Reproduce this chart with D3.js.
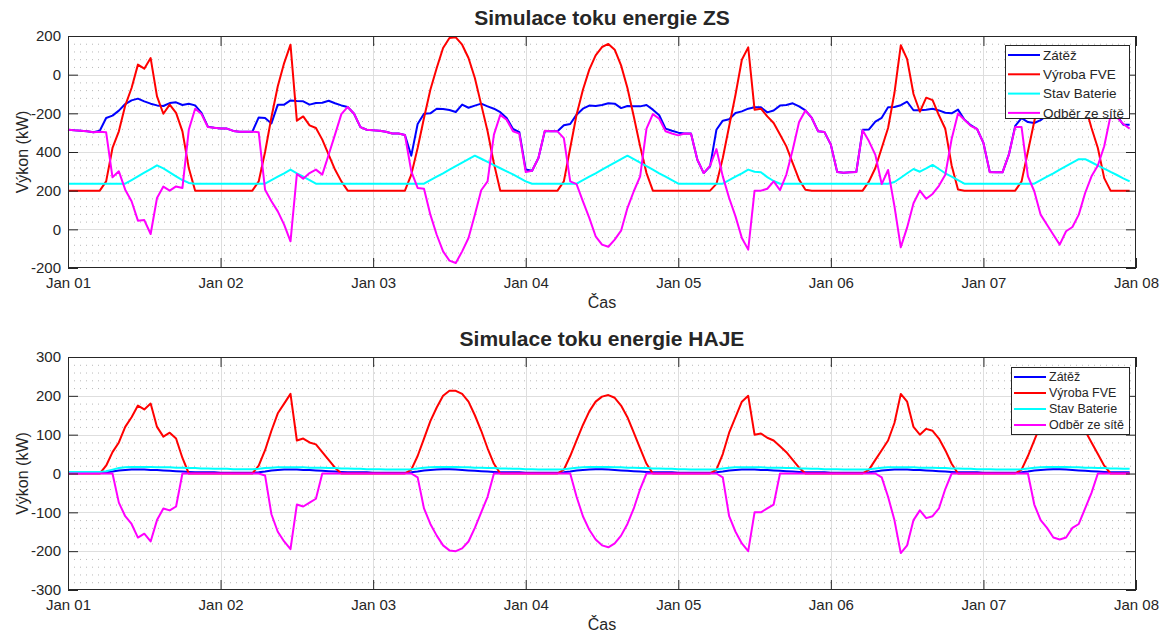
<!DOCTYPE html>
<html><head><meta charset="utf-8">
<script src="https://cdn.jsdelivr.net/npm/d3@7"></script>
<style>
body{margin:0;background:#fff;}
svg text{font-family:"Liberation Sans",Arial,Helvetica,sans-serif;fill:#262626;}
</style></head>
<body><svg id="c" width="1167" height="633"></svg>
<script>
// ---------- DATA (hourly, 1.1. 00:00 ... 7.1. 23:00) ----------
const xTickLabels = ["Jan 01","Jan 02","Jan 03","Jan 04","Jan 05","Jan 06","Jan 07","Jan 08"];
const seriesNames = ["Zátěž","Výroba FVE","Stav Baterie","Odběr ze sítě"];
const seriesColors = ["#0000ff","#ff0000","#00ffff","#ff00ff"];

const zsYTicks = [-200,0,200,400,600,800,1000];
const zsYTickLabels = ["-200","0","200","400","-200","0","200"];
const hjYTicks = [-300,-200,-100,0,100,200,300];
const hjYTickLabels = ["-300","-200","-100","0","100","200","300"];

// ZS
const zsLoad = [
 515,512,510,507,502,510,576,588,614,648,667,676,662,650,641,638,653,657,643,650,641,602,531,526,
 522,521,509,505,505,505,579,576,548,645,645,667,664,662,645,653,655,665,652,641,633,598,529,515,
 512,510,505,496,496,488,381,545,598,600,624,622,617,607,645,629,640,650,636,624,606,576,519,503,
 309,303,369,507,507,507,538,545,593,624,640,638,643,652,650,627,638,636,636,643,619,590,521,510,
 500,496,496,360,291,326,515,562,569,602,610,624,631,631,605,615,640,643,652,636,615,576,507,503,
 438,296,293,295,296,515,517,557,577,631,633,642,660,616,616,619,624,615,603,600,619,568,539,519,
 447,296,295,295,386,535,575,555,550,565,590,620,630,640,640,630,620,605,600,595,588,588,541,541];
const zsFVE = [
 200,200,200,200,200,200,248,421,507,640,731,852,831,886,688,598,645,602,507,317,200,200,200,200,
 200,200,200,200,200,200,248,400,580,740,860,955,562,584,538,524,464,386,309,248,200,200,200,200,
 200,200,200,200,200,200,283,421,576,722,834,938,990,993,955,886,783,645,507,340,200,200,200,200,
 200,200,200,200,200,200,248,421,593,722,826,900,943,959,929,848,731,584,429,291,200,200,200,200,
 200,200,200,200,200,200,235,369,533,696,877,941,619,624,584,550,490,429,343,257,205,200,200,200,
 200,200,200,200,200,200,248,317,421,524,705,952,880,700,608,681,668,590,520,330,206,200,200,200,
 200,200,200,200,200,200,248,403,559,700,820,900,940,930,880,780,640,524,421,265,200,200,200,200];
const zsBat = [
 236,236,236,236,236,236,236,236,236,236,255,274,293,312,331,315,295,274,255,240,236,236,236,236,
 236,236,236,236,236,236,236,236,254,272,290,309,290,272,254,236,236,236,236,236,236,236,236,236,
 236,236,236,236,236,236,236,236,236,254,272,290,309,327,345,363,381,365,349,332,316,300,284,266,
 248,236,236,236,236,236,236,236,236,254,272,290,309,327,345,363,381,363,345,327,309,290,272,254,
 236,236,236,236,236,236,236,236,254,272,290,309,298,295,270,250,236,236,236,236,236,236,236,236,
 236,236,236,236,236,236,236,236,236,236,245,267,290,312,298,315,333,312,290,272,254,236,236,236,
 236,236,236,236,236,236,236,236,236,254,272,290,309,327,345,363,363,347,330,314,297,281,264,248];
const zsGrid = [
 515,512,510,507,502,505,502,269,300,205,145,45,48,-24,162,221,200,222,214,515,624,596,529,526,
 522,521,509,505,505,505,502,205,145,93,24,-62,286,262,291,309,283,386,490,596,633,598,529,515,
 512,510,505,496,496,488,300,214,210,76,-28,-114,-162,-174,-114,-45,76,202,248,490,592,567,507,495,
 296,303,369,510,507,507,472,248,234,145,59,-36,-79,-90,-53,-7,110,197,274,521,596,572,507,496,
 486,496,495,360,291,330,415,274,162,67,-45,-105,200,200,210,248,203,283,412,555,615,576,507,503,
 438,296,293,295,296,512,455,385,234,307,120,-93,10,135,200,158,183,225,282,467,599,567,535,519,
 447,295,295,295,386,529,529,274,197,76,24,-28,-79,-10,12,76,188,274,330,430,588,579,545,521];

// HAJE
const hjLoad = [
 2,2,2,2,2,2,3,5,8,9,10,10,10,9,9,8,7,6,5,4,3,3,3,3,
 2,2,2,2,2,2,3,5,8,9,10,10,10,9,9,8,7,6,5,4,3,3,3,3,
 2,2,2,2,2,2,3,5,8,9,10,11,11,10,9,8,7,6,5,4,3,3,3,3,
 2,2,2,2,2,2,3,5,8,9,10,11,11,10,9,8,7,6,5,4,3,3,3,3,
 2,2,2,2,2,2,3,5,8,9,10,10,10,9,9,8,7,6,5,4,3,3,3,3,
 2,2,2,2,2,2,3,5,8,9,10,10,10,9,9,8,7,6,5,4,3,3,3,3,
 2,2,2,2,2,2,3,5,8,9,10,11,11,10,9,8,7,6,5,4,3,3,3,3];
const hjFVE = [
 0,0,0,0,0,0,20,55,80,120,145,175,165,180,120,95,105,90,40,0,0,0,0,0,
 0,0,0,0,0,0,20,60,110,155,180,205,85,90,80,75,55,35,15,0,0,0,0,0,
 0,0,0,0,0,0,10,45,90,135,170,200,213,213,205,185,150,110,65,25,0,0,0,0,
 0,0,0,0,0,0,10,45,85,125,160,185,198,202,195,175,145,105,65,25,0,0,0,0,
 0,0,0,0,0,0,10,50,105,145,185,200,100,103,92,85,70,55,35,15,0,0,0,0,
 0,0,0,0,0,0,10,35,60,85,130,205,185,120,100,115,110,90,60,25,0,0,0,0,
 0,0,0,0,0,0,10,45,85,125,155,170,175,170,165,140,110,80,50,20,0,0,0,0];
const hjBat = [
 4,4,4,4,4,4,6,10,14,16,17,17,17,17,16,16,16,15,15,14,14,13,13,12,
 12,12,11,11,11,11,12,14,15,16,16,16,16,16,15,15,15,14,14,13,13,12,12,11,
 11,11,10,10,10,10,11,13,15,16,17,17,17,17,16,16,15,15,14,14,13,13,12,12,
 11,11,10,10,10,10,11,13,15,16,17,17,17,17,16,16,15,15,14,14,13,13,12,12,
 11,11,10,10,10,10,11,13,15,16,16,16,16,16,15,15,15,14,14,13,13,12,12,11,
 11,11,10,10,10,10,11,13,15,16,16,16,16,16,15,15,15,14,14,13,13,12,12,11,
 11,11,10,10,10,10,11,13,15,16,17,17,17,17,16,16,15,15,14,14,13,13,12,12];
const hjGrid = [
 0,0,0,0,0,0,0,0,-75,-110,-130,-165,-155,-175,-120,-90,-95,-85,0,0,0,0,0,0,
 0,0,0,0,0,0,0,-5,-105,-150,-175,-195,-80,-85,-75,-65,0,0,0,0,0,0,0,0,
 0,0,0,0,0,0,0,-10,-90,-130,-160,-185,-198,-200,-193,-175,-140,-100,-60,0,0,0,0,0,
 0,0,0,0,0,0,0,0,-60,-110,-145,-170,-185,-190,-180,-160,-130,-90,-40,0,0,0,0,0,
 0,0,0,0,0,0,0,-10,-110,-150,-180,-200,-100,-100,-90,-80,0,0,0,0,0,0,0,0,
 0,0,0,0,0,0,0,0,-10,-60,-120,-205,-185,-120,-95,-115,-110,-90,-40,0,0,0,0,0,
 0,0,0,0,0,0,0,0,-80,-120,-140,-165,-170,-165,-140,-130,-90,-50,0,0,0,0,0,0];

// ---------- DRAW ----------
const svg = d3.select("#c");
const startMs = Date.UTC(2024,0,1);
const HOUR = 3600e3;
const L = 68, R = 1136;

function panel(opt){
  const g = svg.append("g");
  const x = d3.scaleUtc().domain([new Date(startMs), new Date(startMs + 7*24*HOUR)]).range([L, R]);
  const y = d3.scaleLinear().domain([opt.ticks[0], opt.ticks[opt.ticks.length-1]]).range([opt.bottom, opt.top]);
  const dayDates = xTickLabels.map((_, i) => new Date(startMs + i*24*HOUR));

  // minor grid (dotted)
  const step = (opt.ticks[1]-opt.ticks[0])/5;
  const minor = [];
  for (let k = 0; k < (opt.ticks.length-1)*5; k++){ if (k%5) minor.push(opt.ticks[0] + k*step); }
  g.selectAll(".mn").data(minor).enter().append("line")
    .attr("x1", L).attr("x2", R).attr("y1", d=>y(d)+0.5).attr("y2", d=>y(d)+0.5)
    .attr("stroke", "#b8b8b8").attr("stroke-width", 1).attr("stroke-dasharray", "1,5");
  // major grid
  g.selectAll(".mj").data(opt.ticks.slice(1,-1)).enter().append("line")
    .attr("x1", L).attr("x2", R).attr("y1", d=>Math.round(y(d))+0.5).attr("y2", d=>Math.round(y(d))+0.5)
    .attr("stroke", "#dedede").attr("stroke-width", 1);
  g.selectAll(".mjx").data(dayDates.slice(1,-1)).enter().append("line")
    .attr("y1", opt.top).attr("y2", opt.bottom).attr("x1", d=>Math.round(x(d))+0.5).attr("x2", d=>Math.round(x(d))+0.5)
    .attr("stroke", "#dedede").attr("stroke-width", 1);

  // data lines
  const sets = [opt.load, opt.fve, opt.bat, opt.grid];
  sets.forEach((arr, si) => {
    const line = d3.line().x((d,i)=>x(new Date(startMs + i*HOUR))).y(d=>y(d));
    g.append("path").datum(arr).attr("d", line).attr("fill","none")
      .attr("stroke", seriesColors[si]).attr("stroke-width", 2).attr("stroke-linejoin","round");
  });

  // axes
  const ax = g.append("g").attr("transform", `translate(0,${opt.bottom})`)
    .call(d3.axisBottom(x).tickValues(dayDates).tickFormat((d,i)=>xTickLabels[i]).tickSize(-10).tickPadding(9));
  const axT = g.append("g").attr("transform", `translate(0,${opt.top})`)
    .call(d3.axisTop(x).tickValues(dayDates).tickFormat("").tickSize(-10));
  const ay = g.append("g").attr("transform", `translate(${L},0)`)
    .call(d3.axisLeft(y).tickValues(opt.ticks).tickFormat((d,i)=>opt.tickLabels[i]).tickSize(-10).tickPadding(7));
  const ayR = g.append("g").attr("transform", `translate(${R},0)`)
    .call(d3.axisRight(y).tickValues(opt.ticks).tickFormat("").tickSize(-10));
  [ax, axT, ay, ayR].forEach(a => {
    a.select(".domain").remove();
    a.selectAll(".tick line").attr("stroke", "#262626");
    a.selectAll("text").attr("font-size", 15).attr("fill", "#262626")
      .style("font-family", '"Liberation Sans",Arial,sans-serif');
  });
  g.append("rect").attr("x", L+0.5).attr("y", opt.top+0.5).attr("width", R-L-1).attr("height", opt.bottom-opt.top-1)
    .attr("fill","none").attr("stroke","#262626").attr("stroke-width",1);

  // labels
  g.append("text").attr("x", (L+R)/2).attr("y", opt.top-11).attr("text-anchor","middle")
    .attr("font-size", 21).attr("font-weight","bold").attr("fill","#000").text(opt.title);
  g.append("text").attr("x", (L+R)/2).attr("y", opt.bottom+40).attr("text-anchor","middle")
    .attr("font-size", 16).text("Čas");
  g.append("text").attr("transform", `translate(28,${(opt.top+opt.bottom)/2}) rotate(-90)`)
    .attr("text-anchor","middle").attr("font-size", 16).text("Výkon (kW)");

  // legend
  const lg = opt.legend;
  g.append("rect").attr("x", lg.x+0.5).attr("y", lg.y+0.5).attr("width", lg.w).attr("height", lg.h)
    .attr("fill","#fff").attr("stroke","#262626").attr("stroke-width",1);
  seriesNames.forEach((nm, i) => {
    const yy = lg.y + lg.first + i*lg.dy;
    g.append("line").attr("x1", lg.x+3).attr("x2", lg.x+3+lg.len).attr("y1", yy).attr("y2", yy)
      .attr("stroke", seriesColors[i]).attr("stroke-width", 2);
    g.append("text").attr("x", lg.x+lg.len+6).attr("y", yy).attr("dy","0.35em")
      .attr("font-size", lg.fs).attr("fill","#000").text(nm);
  });
}

panel({title:"Simulace toku energie ZS", top:36, bottom:268, ticks:zsYTicks, tickLabels:zsYTickLabels,
  load:zsLoad, fve:zsFVE, bat:zsBat, grid:zsGrid,
  legend:{x:1005, y:45, w:124, h:73, first:10, dy:19.3, len:32, fs:13.5}});
panel({title:"Simulace toku energie HAJE", top:357, bottom:590, ticks:hjYTicks, tickLabels:hjYTickLabels,
  load:hjLoad, fve:hjFVE, bat:hjBat, grid:hjGrid,
  legend:{x:1011, y:367, w:118, h:67, first:10, dy:16, len:32, fs:12.5}});
</script></body></html>
